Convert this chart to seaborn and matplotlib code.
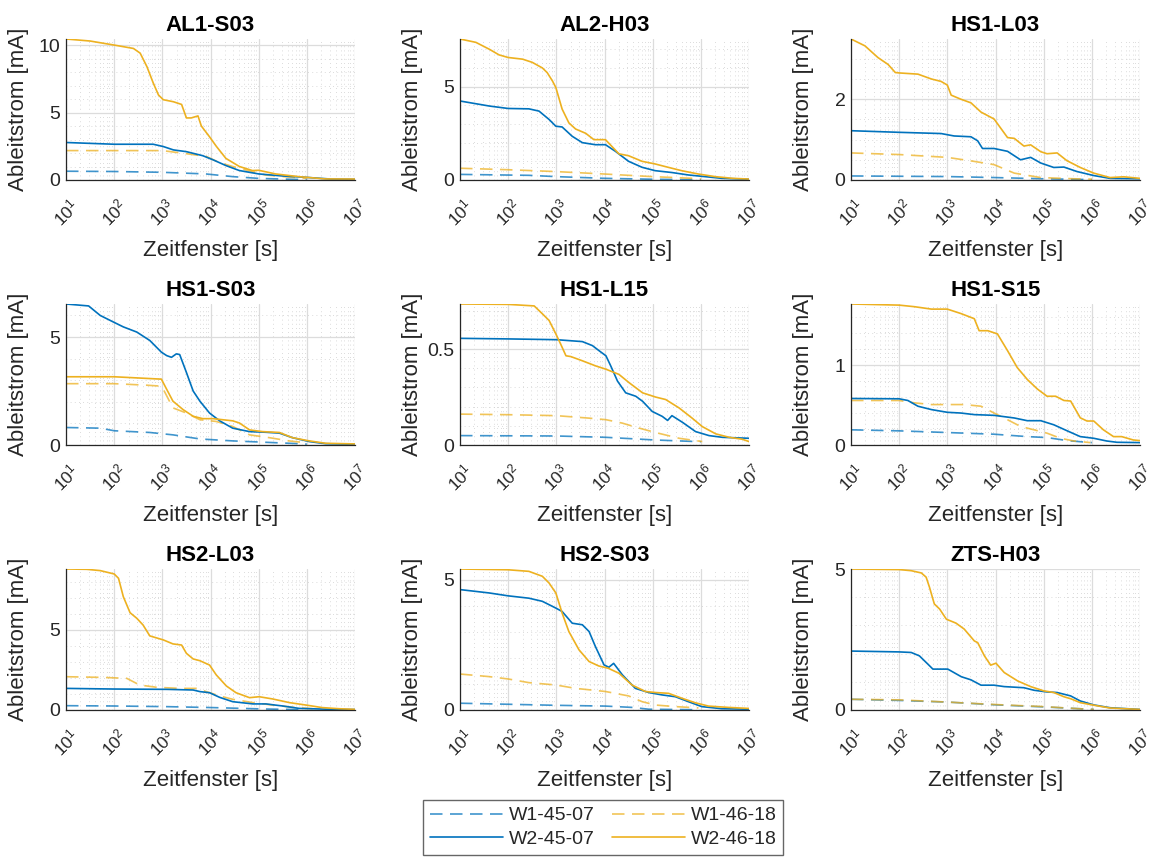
import matplotlib
matplotlib.use("Agg")
import matplotlib.pyplot as plt
from matplotlib.lines import Line2D
from matplotlib.ticker import FixedLocator, FuncFormatter, NullFormatter, AutoMinorLocator
import numpy as np
import pandas as pd
import seaborn as sns

# ---------------------------------------------------------------------------
# Leakage current over time window; pairs are (log10 of time window in s, mA)
# ---------------------------------------------------------------------------
SERIES = ["W1-45-07", "W1-46-18", "W2-45-07", "W2-46-18"]
PANELS = ["AL1-S03", "AL2-H03", "HS1-L03",
          "HS1-S03", "HS1-L15", "HS1-S15",
          "HS2-L03", "HS2-S03", "ZTS-H03"]

AL1_S03_W1_4507 = [(1, 0.65), (2, 0.63), (3, 0.57), (3.9, 0.45), (4.46, 0.25), (5, 0.12), (5.7, 0.05), (6, 0.03)]
AL1_S03_W2_4507 = [(1, 2.78), (2, 2.65), (2.81, 2.65), (3.02, 2.48), (3.23, 2.23), (3.5, 2.1), (3.84, 1.8), (4.05, 1.5),
                   (4.32, 1.07), (4.6, 0.7), (5, 0.45), (5.49, 0.3), (5.97, 0.2), (6.5, 0.07), (7, 0.05)]
AL1_S03_W1_4618 = [(1, 2.18), (3.0, 2.18), (3.5, 1.95), (3.91, 1.75), (4.18, 1.3), (4.46, 1.0), (4.87, 0.62),
                   (5.14, 0.37), (5.69, 0.2), (6.0, 0.12)]
AL1_S03_W2_4618 = [(1, 10.45), (1.5, 10.3), (2, 10.0), (2.4, 9.75), (2.54, 9.4), (2.68, 8.4), (2.81, 7.2), (2.92, 6.3),
                   (3.02, 5.95), (3.23, 5.8), (3.4, 5.6), (3.5, 4.6), (3.6, 4.6), (3.74, 4.75), (3.81, 4.0), (3.98, 3.2),
                   (4.12, 2.5), (4.32, 1.6), (4.6, 1.0), (4.87, 0.7), (5.0, 0.72), (5.35, 0.45), (5.83, 0.25),
                   (6.38, 0.08), (7, 0.07)]

AL2_H03_W1_4507 = [(1, 0.3), (2.43, 0.25), (3, 0.18), (4, 0.09), (5, 0.04), (6, 0.01)]
AL2_H03_W2_4507 = [(1, 4.23), (1.61, 3.96), (2, 3.83), (2.43, 3.81), (2.64, 3.69), (2.85, 3.24), (2.99, 2.88),
                   (3.12, 2.84), (3.33, 2.34), (3.54, 2.0), (3.81, 1.89), (4.02, 1.89), (4.23, 1.53), (4.5, 1.0),
                   (4.78, 0.68), (5.05, 0.5), (5.4, 0.4), (5.74, 0.27), (6.09, 0.18), (6.43, 0.09), (7, 0.04)]
AL2_H03_W1_4618 = [(1, 0.63), (2, 0.55), (3, 0.45), (4, 0.32), (5, 0.18), (6, 0.07)]
AL2_H03_W2_4618 = [(1, 7.55), (1.33, 7.37), (1.61, 7.0), (1.81, 6.7), (2, 6.56), (2.3, 6.47), (2.5, 6.3), (2.71, 6.0),
                   (2.81, 5.75), (2.92, 5.3), (2.99, 4.95), (3.12, 3.8), (3.26, 3.06), (3.4, 2.73), (3.61, 2.5),
                   (3.78, 2.16), (4.02, 2.16), (4.3, 1.4), (4.5, 1.3), (4.78, 1.0), (5.05, 0.86), (5.26, 0.72),
                   (5.6, 0.5), (5.95, 0.32), (6.3, 0.18), (6.66, 0.09), (7, 0.05)]

HS1_L03_W1_4507 = [(1, 0.1), (3, 0.085), (4, 0.06), (5, 0.03), (6, 0.01)]
HS1_L03_W2_4507 = [(1, 1.22), (2, 1.18), (2.87, 1.15), (3.14, 1.09), (3.49, 1.07), (3.63, 0.97), (3.73, 0.78),
                   (3.97, 0.78), (4.25, 0.71), (4.52, 0.5), (4.73, 0.56), (4.94, 0.42), (5.21, 0.31), (5.42, 0.32),
                   (5.69, 0.21), (6.04, 0.11), (6.38, 0.04), (7, 0.03)]
HS1_L03_W1_4618 = [(1, 0.67), (2, 0.63), (3, 0.56), (3.56, 0.46), (3.97, 0.38), (4.39, 0.17), (4.94, 0.06),
                   (5.63, 0.03), (6, 0.02)]
HS1_L03_W2_4618 = [(1, 3.49), (1.29, 3.32), (1.56, 3.03), (1.77, 2.86), (1.92, 2.66), (2, 2.65), (2.39, 2.62),
                   (2.67, 2.5), (2.87, 2.44), (3, 2.35), (3.08, 2.1), (3.28, 2.0), (3.49, 1.91), (3.7, 1.68),
                   (3.97, 1.51), (4.25, 1.05), (4.39, 1.03), (4.59, 0.84), (4.73, 0.87), (4.94, 0.7), (5.07, 0.65),
                   (5.28, 0.67), (5.48, 0.48), (5.76, 0.31), (6.04, 0.17), (6.38, 0.06), (6.66, 0.08), (7, 0.04)]

HS1_S03_W1_4507 = [(1, 0.81), (1.71, 0.78), (2, 0.66), (2.74, 0.58), (3.22, 0.47), (3.78, 0.28), (4.46, 0.19),
                   (5.15, 0.125), (5.84, 0.06), (6, 0.04)]
HS1_S03_W2_4507 = [(1, 6.53), (1.47, 6.44), (1.71, 6.0), (1.98, 5.7), (2.19, 5.47), (2.47, 5.23), (2.74, 4.84),
                   (2.98, 4.3), (3.09, 4.14), (3.19, 4.06), (3.29, 4.22), (3.36, 4.19), (3.5, 3.36), (3.64, 2.5),
                   (3.78, 2.03), (3.98, 1.48), (4.19, 1.12), (4.46, 0.78), (4.81, 0.62), (5.15, 0.59), (5.43, 0.55),
                   (5.7, 0.34), (6.05, 0.16), (6.39, 0.06), (7, 0.03)]
HS1_S03_W1_4618 = [(1, 2.84), (2, 2.84), (2.67, 2.77), (2.95, 2.73), (3.02, 2.58), (3.22, 1.72), (3.5, 1.48),
                   (3.78, 1.17), (4.12, 1.09), (4.46, 0.86), (4.81, 0.47), (5.22, 0.34), (5.63, 0.19), (6.0, 0.1)]
HS1_S03_W2_4618 = [(1, 3.16), (2, 3.16), (2.98, 3.05), (3.09, 2.58), (3.22, 2.03), (3.43, 1.64), (3.64, 1.33),
                   (3.84, 1.22), (4.05, 1.22), (4.46, 1.12), (4.6, 1.02), (4.81, 0.7), (5.08, 0.62), (5.43, 0.58),
                   (5.7, 0.34), (6.05, 0.19), (6.39, 0.08), (7, 0.05)]

HS1_L15_W1_4507 = [(1, 0.049), (3, 0.047), (4.03, 0.04), (5.06, 0.026), (5.89, 0.018), (6, 0.017)]
HS1_L15_W2_4507 = [(1, 0.556), (2, 0.553), (3, 0.549), (3.27, 0.544), (3.54, 0.539), (3.75, 0.518), (3.89, 0.491),
                   (4.03, 0.465), (4.13, 0.412), (4.27, 0.333), (4.44, 0.272), (4.65, 0.254), (4.79, 0.228),
                   (4.99, 0.175), (5.2, 0.149), (5.31, 0.128), (5.4, 0.153), (5.62, 0.118), (5.89, 0.07),
                   (6.17, 0.049), (6.45, 0.04), (7, 0.035)]
HS1_L15_W1_4618 = [(1, 0.161), (2, 0.158), (3, 0.153), (3.68, 0.14), (4.03, 0.132), (4.37, 0.114), (4.72, 0.088),
                   (5.06, 0.065), (5.55, 0.035), (6.03, 0.018)]
HS1_L15_W2_4618 = [(1, 0.735), (2, 0.733), (2.54, 0.725), (2.71, 0.684), (2.85, 0.649), (2.99, 0.579), (3.09, 0.526),
                   (3.2, 0.465), (3.3, 0.461), (3.54, 0.439), (3.82, 0.412), (4.03, 0.395), (4.3, 0.368),
                   (4.51, 0.325), (4.79, 0.272), (5.06, 0.25), (5.27, 0.237), (5.55, 0.193), (5.82, 0.14),
                   (6.03, 0.096), (6.31, 0.058), (6.59, 0.04), (6.86, 0.03), (7, 0.018)]

HS1_S15_W1_4507 = [(1, 0.19), (2, 0.177), (3, 0.156), (3.97, 0.135), (4.66, 0.105), (5.07, 0.093), (5.49, 0.055),
                   (5.9, 0.034), (6, 0.03)]
HS1_S15_W2_4507 = [(1, 0.582), (2, 0.578), (2.18, 0.557), (2.39, 0.485), (2.67, 0.443), (3, 0.409), (3.28, 0.40),
                   (3.56, 0.38), (3.97, 0.371), (4.39, 0.338), (4.66, 0.304), (4.94, 0.304), (5.21, 0.253),
                   (5.49, 0.177), (5.76, 0.105), (6.04, 0.084), (6.31, 0.05), (6.52, 0.034), (7, 0.03)]
HS1_S15_W1_4618 = [(1, 0.557), (2, 0.557), (2.32, 0.527), (2.67, 0.506), (3.35, 0.506), (3.7, 0.485), (3.97, 0.40),
                   (4.25, 0.316), (4.52, 0.232), (4.8, 0.19), (5.07, 0.148), (5.35, 0.084), (5.63, 0.05),
                   (5.97, 0.03)]
HS1_S15_W2_4618 = [(1, 1.764), (2, 1.75), (2.32, 1.73), (2.67, 1.70), (3, 1.70), (3.28, 1.645), (3.56, 1.58),
                   (3.66, 1.43), (3.84, 1.43), (4.04, 1.39), (4.25, 1.18), (4.45, 0.97), (4.66, 0.82), (4.87, 0.70),
                   (5.07, 0.61), (5.25, 0.61), (5.42, 0.557), (5.56, 0.55), (5.76, 0.34), (5.9, 0.30), (6.04, 0.30),
                   (6.24, 0.19), (6.45, 0.105), (6.62, 0.105), (6.86, 0.063), (7, 0.055)]

HS2_L03_W1_4507 = [(1, 0.27), (2, 0.25), (3.09, 0.21), (4.05, 0.15), (5.15, 0.06), (5.98, 0.02)]
HS2_L03_W2_4507 = [(1, 1.35), (2, 1.31), (3.09, 1.29), (3.64, 1.25), (3.78, 1.15), (3.98, 1.08), (4.19, 0.79),
                   (4.46, 0.52), (4.88, 0.38), (5.15, 0.38), (5.5, 0.25), (5.84, 0.1), (6.53, 0.04), (7, 0.03)]
HS2_L03_W1_4618 = [(1, 2.08), (1.71, 2.04), (2.26, 1.98), (2.53, 1.56), (2.88, 1.42), (3.36, 1.35), (3.71, 1.35),
                   (3.91, 1.15), (4.19, 0.88), (4.46, 0.67), (4.88, 0.46), (5.29, 0.31), (5.71, 0.17), (6.12, 0.08)]
HS2_L03_W2_4618 = [(1, 8.81), (1.43, 8.79), (1.71, 8.71), (2, 8.5), (2.09, 8.23), (2.19, 7.08), (2.33, 6.08),
                   (2.47, 5.73), (2.6, 5.31), (2.74, 4.63), (3.02, 4.38), (3.22, 4.13), (3.4, 4.06), (3.5, 3.54),
                   (3.64, 3.19), (3.78, 3.08), (3.98, 2.81), (4.12, 2.19), (4.33, 1.5), (4.53, 1.08), (4.81, 0.77),
                   (5.01, 0.83), (5.29, 0.69), (5.64, 0.46), (5.98, 0.31), (6.32, 0.15), (6.67, 0.08), (7, 0.04)]

HS2_S03_W1_4507 = [(1, 0.26), (2, 0.22), (2.99, 0.18), (4.02, 0.15), (4.57, 0.1), (4.92, 0.03), (5.95, 0.01)]
HS2_S03_W2_4507 = [(1, 4.62), (1.61, 4.49), (2, 4.38), (2.43, 4.29), (2.71, 4.17), (2.99, 3.91), (3.12, 3.78),
                   (3.33, 3.33), (3.54, 3.27), (3.68, 3.01), (3.81, 2.44), (3.99, 1.73), (4.09, 1.64), (4.19, 1.79),
                   (4.37, 1.35), (4.64, 0.83), (4.92, 0.67), (5.19, 0.58), (5.47, 0.51), (5.74, 0.32), (6.02, 0.13),
                   (6.43, 0.05), (7, 0.03)]
HS2_S03_W1_4618 = [(1, 1.38), (1.61, 1.28), (2, 1.19), (2.43, 1.05), (2.99, 0.96), (3.4, 0.83), (4.02, 0.71),
                   (4.5, 0.54), (4.78, 0.32), (5.06, 0.19), (5.47, 0.13), (5.95, 0.08)]
HS2_S03_W2_4618 = [(1, 5.41), (2, 5.38), (2.43, 5.32), (2.71, 5.13), (2.85, 4.87), (2.99, 4.49), (3.12, 3.72),
                   (3.26, 3.01), (3.47, 2.31), (3.68, 1.86), (3.88, 1.69), (4.08, 1.6), (4.3, 1.41), (4.57, 0.96),
                   (4.85, 0.71), (5.06, 0.67), (5.33, 0.64), (5.61, 0.45), (5.88, 0.28), (6.16, 0.15), (6.57, 0.1),
                   (7, 0.06)]

ZTS_H03_W1_4507 = [(1, 0.38), (2, 0.34), (3.01, 0.28), (4.04, 0.18), (5, 0.11), (5.69, 0.05), (6.04, 0.02)]
ZTS_H03_W2_4507 = [(1, 2.09), (2, 2.06), (2.25, 2.04), (2.42, 1.92), (2.6, 1.62), (2.7, 1.45), (3.01, 1.45),
                   (3.29, 1.18), (3.49, 1.07), (3.7, 0.88), (3.97, 0.88), (4.18, 0.83), (4.59, 0.79), (4.8, 0.7),
                   (5.07, 0.64), (5.28, 0.62), (5.56, 0.5), (5.76, 0.32), (6.04, 0.18), (6.38, 0.08), (7, 0.02)]
ZTS_H03_W1_4618 = [(1, 0.38), (2, 0.36), (3.01, 0.28), (4.04, 0.19), (5, 0.12), (5.69, 0.05), (6.04, 0.02)]
ZTS_H03_W2_4618 = [(1, 5.0), (2, 4.98), (2.25, 4.94), (2.46, 4.86), (2.56, 4.71), (2.63, 4.35), (2.73, 3.76),
                   (2.84, 3.58), (2.98, 3.22), (3.18, 3.08), (3.35, 2.87), (3.56, 2.45), (3.63, 2.39), (3.77, 1.92),
                   (3.9, 1.59), (4.01, 1.66), (4.18, 1.33), (4.46, 1.03), (4.73, 0.83), (5.0, 0.68), (5.21, 0.62),
                   (5.42, 0.47), (5.56, 0.4), (5.76, 0.26), (6.04, 0.17), (6.38, 0.07), (7, 0.02)]

PANEL_DATA = {
    "AL1-S03": [AL1_S03_W1_4507, AL1_S03_W1_4618, AL1_S03_W2_4507, AL1_S03_W2_4618],
    "AL2-H03": [AL2_H03_W1_4507, AL2_H03_W1_4618, AL2_H03_W2_4507, AL2_H03_W2_4618],
    "HS1-L03": [HS1_L03_W1_4507, HS1_L03_W1_4618, HS1_L03_W2_4507, HS1_L03_W2_4618],
    "HS1-S03": [HS1_S03_W1_4507, HS1_S03_W1_4618, HS1_S03_W2_4507, HS1_S03_W2_4618],
    "HS1-L15": [HS1_L15_W1_4507, HS1_L15_W1_4618, HS1_L15_W2_4507, HS1_L15_W2_4618],
    "HS1-S15": [HS1_S15_W1_4507, HS1_S15_W1_4618, HS1_S15_W2_4507, HS1_S15_W2_4618],
    "HS2-L03": [HS2_L03_W1_4507, HS2_L03_W1_4618, HS2_L03_W2_4507, HS2_L03_W2_4618],
    "HS2-S03": [HS2_S03_W1_4507, HS2_S03_W1_4618, HS2_S03_W2_4507, HS2_S03_W2_4618],
    "ZTS-H03": [ZTS_H03_W1_4507, ZTS_H03_W1_4618, ZTS_H03_W2_4507, ZTS_H03_W2_4618],
}

PANEL_YTICKS = [[0, 5, 10], [0, 5], [0, 2],
                [0, 5], [0, 0.5], [0, 1],
                [0, 5], [0, 5], [0, 5]]
XTICK_EXPONENTS = [1, 2, 3, 4, 5, 6, 7]
XTICK_LABELS = [r"$10^{%d}$" % e for e in XTICK_EXPONENTS]
X_LABEL = "Zeitfenster [s]"
Y_LABEL = "Ableitstrom [mA]"

# ---------------------------------------------------------------------------
# Styling
# ---------------------------------------------------------------------------
BLUE = "#0072BD"
YELLOW = "#EDB120"
PALETTE = {"W1-45-07": BLUE, "W2-45-07": BLUE, "W1-46-18": YELLOW, "W2-46-18": YELLOW}
DASH = (7.5, 4.5)
DASHES = {"W1-45-07": DASH, "W1-46-18": DASH, "W2-45-07": "", "W2-46-18": ""}
DASHED_ALPHA = 0.75
LW = 1.2
AXIS_COLOR = "#262626"

sns.set_theme(style="white")
plt.rcParams["font.family"] = ["Liberation Sans", "DejaVu Sans"]
plt.rcParams["mathtext.fontset"] = "custom"
plt.rcParams["mathtext.rm"] = "Liberation Sans"
plt.rcParams["mathtext.it"] = "Liberation Sans:italic"
plt.rcParams["mathtext.bf"] = "Liberation Sans:bold"

W, H = 1157, 857
fig = plt.figure(figsize=(W / 100, H / 100), dpi=100)
fig.patch.set_facecolor("white")

col_left = [66, 460, 851]
row_bottom = [180, 445, 710]
ax_w, ax_h = 289, 141

for idx, name in enumerate(PANELS):
    r, c = divmod(idx, 3)
    ax = fig.add_axes([col_left[c] / W, 1 - row_bottom[r] / H, ax_w / W, ax_h / H])

    frames = []
    for label, pts in zip(SERIES, PANEL_DATA[name]):
        arr = np.asarray(pts, dtype=float)
        frames.append(pd.DataFrame({"t": 10 ** arr[:, 0], "I": arr[:, 1], "Serie": label}))
    df = pd.concat(frames, ignore_index=True)

    sns.lineplot(data=df, x="t", y="I", hue="Serie", style="Serie", hue_order=SERIES, style_order=SERIES,
                 palette=PALETTE, dashes=DASHES, estimator=None, sort=False, linewidth=LW,
                 legend=False, ax=ax)
    # lighter dashed W1 curves
    for line, label in zip(ax.get_lines(), SERIES):
        if DASHES[label]:
            line.set_alpha(DASHED_ALPHA)

    ax.set_xscale("log")
    ax.set_xlim(10 ** XTICK_EXPONENTS[0], 10 ** XTICK_EXPONENTS[-1])
    ax.set_ylim(0, df["I"].max())

    ax.set_xticks([10.0 ** e for e in XTICK_EXPONENTS])
    ax.set_xticklabels(XTICK_LABELS, rotation=45, ha="center", va="top")
    ax.xaxis.set_minor_locator(FixedLocator([m * 10.0 ** e for e in XTICK_EXPONENTS[:-1] for m in range(2, 10)]))
    ax.xaxis.set_minor_formatter(NullFormatter())

    ax.yaxis.set_major_locator(FixedLocator(PANEL_YTICKS[idx]))
    ax.yaxis.set_major_formatter(FuncFormatter(lambda v, p: "%g" % v))
    ax.yaxis.set_minor_locator(AutoMinorLocator())

    ax.set_axisbelow(True)
    ax.grid(which="major", axis="both", color="#dcdcdc", linewidth=0.9, linestyle="-")
    ax.grid(which="minor", axis="both", color="#cfcfcf", linewidth=0.6, linestyle=(0, (1, 4)))

    for side in ("top", "right"):
        ax.spines[side].set_visible(False)
    for side in ("left", "bottom"):
        ax.spines[side].set_color(AXIS_COLOR)
        ax.spines[side].set_linewidth(0.9)

    ax.tick_params(axis="both", which="both", direction="in", colors=AXIS_COLOR, labelsize=14)
    ax.tick_params(axis="x", which="major", length=4, width=0.8, pad=11, labelsize=12.5)
    ax.tick_params(axis="x", which="minor", length=2, width=0.6)
    ax.tick_params(axis="y", which="major", length=4, width=0.8, pad=4)
    ax.tick_params(axis="y", which="minor", length=0)

    ax.set_title(name, fontsize=16, fontweight="bold", color="black", pad=6)
    ax.set_xlabel(X_LABEL, fontsize=16, color=AXIS_COLOR)
    ax.set_ylabel(Y_LABEL, fontsize=16, color=AXIS_COLOR)
    ax.xaxis.set_label_coords(0.5, -60 / ax_h)
    ax.yaxis.set_label_coords(-37 / ax_w, 0.5)

# Legend: two columns, dashed W1 on the first row, solid W2 on the second
legend_order = ["W1-45-07", "W2-45-07", "W1-46-18", "W2-46-18"]
handles = [Line2D([], [], color=PALETTE[s], linewidth=LW,
                  alpha=DASHED_ALPHA if DASHES[s] else 1.0,
                  linestyle=(0, DASHES[s]) if DASHES[s] else "-") for s in legend_order]
leg = fig.legend(handles, legend_order, loc="upper left", bbox_to_anchor=(423 / W, 1 - 800 / H),
                 ncol=2, fontsize=14, frameon=True, fancybox=False, handlelength=3.75,
                 handletextpad=0.3, columnspacing=0.9, borderpad=0.35, labelspacing=0.3,
                 borderaxespad=0)
leg.get_frame().set_edgecolor("#404040")
leg.get_frame().set_linewidth(1.0)
for t in leg.get_texts():
    t.set_color(AXIS_COLOR)

fig.savefig("out.png", dpi=100, facecolor="white")
